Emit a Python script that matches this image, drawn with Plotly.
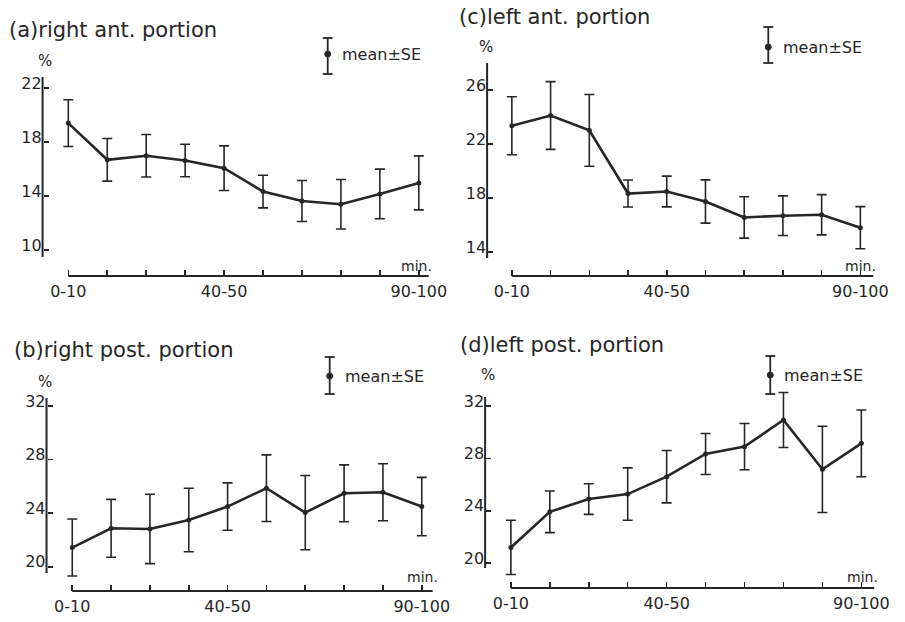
import plotly.graph_objects as go

W, H = 905, 622
INK = "#262626"
FONT = "DejaVu Sans"

categories = ["0-10", "10-20", "20-30", "30-40", "40-50",
              "50-60", "60-70", "70-80", "80-90", "90-100"]
tick_text = ["0-10", "", "", "", "40-50", "", "", "", "", "90-100"]

# (a) right ant. portion
a_mean = [19.4, 16.68, 16.98, 16.63, 16.06, 14.33, 13.63, 13.39, 14.15, 14.97]
a_se = [1.73, 1.58, 1.57, 1.20, 1.65, 1.21, 1.52, 1.83, 1.84, 2.00]
# (b) right post. portion
b_mean = [21.43, 22.87, 22.82, 23.49, 24.49, 25.86, 24.04, 25.48, 25.56, 24.49]
b_se = [2.13, 2.16, 2.59, 2.37, 1.77, 2.49, 2.77, 2.12, 2.13, 2.18]
# (c) left ant. portion
c_mean = [23.35, 24.11, 23.01, 18.33, 18.48, 17.74, 16.56, 16.69, 16.76, 15.80]
c_se = [2.15, 2.51, 2.66, 1.00, 1.14, 1.60, 1.53, 1.47, 1.49, 1.56]
# (d) left post. portion
d_mean = [21.21, 23.93, 24.90, 25.28, 26.61, 28.34, 28.90, 30.93, 27.17, 29.15]
d_se = [2.07, 1.59, 1.17, 2.00, 2.00, 1.56, 1.76, 2.10, 3.29, 2.55]

a_ticks = [10, 14, 18, 22]
b_ticks = [20, 24, 28, 32]
c_ticks = [14, 18, 22, 26]
d_ticks = [20, 24, 28, 32]

titles = ["(a)right ant. portion", "(b)right post. portion",
          "(c)left ant. portion", "(d)left post. portion"]

# layout geometry in pixels for each panel
panels = [
    dict(mean=a_mean, se=a_se, ticks=a_ticks, title=titles[0],
         x0=69, x9=423, xline=(69, 433), xaxis_y=276,
         yv=(22, 88, 10, 250), yaxis_x=43, yline=(77, 257),
         dom_x=(10, 445), dom_y=(60, 272),
         title_xy=(7, 30), pct=(45, 61), minl=(421, 266),
         leg=(331, 38, 74, 54, 343)),
    dict(mean=b_mean, se=b_se, ticks=b_ticks, title=titles[1],
         x0=73, x9=426, xline=(73, 437), xaxis_y=591,
         yv=(32, 406, 20, 566.7), yaxis_x=47, yline=(398, 573),
         dom_x=(10, 445), dom_y=(352, 588),
         title_xy=(12, 350), pct=(45, 382), minl=(427, 577),
         leg=(333, 357, 394, 376, 346)),
    dict(mean=c_mean, se=c_se, ticks=c_ticks, title=titles[2],
         x0=517, x9=869, xline=(517, 882), xaxis_y=276,
         yv=(26, 90, 14, 252), yaxis_x=492, yline=(63, 258),
         dom_x=(455, 900), dom_y=(60, 272),
         title_xy=(462, 17), pct=(491, 47), minl=(869, 266),
         leg=(776, 27, 63, 47, 789)),
    dict(mean=d_mean, se=d_se, ticks=d_ticks, title=titles[3],
         x0=516, x9=870, xline=(516, 883), xaxis_y=588,
         yv=(32, 406, 20, 563.3), yaxis_x=490, yline=(397, 568),
         dom_x=(455, 900), dom_y=(352, 585),
         title_xy=(463, 345), pct=(493, 375), minl=(871, 577),
         leg=(778, 356, 394, 375, 790)),
]


def px2fx(px):
    return px / W


def py2fy(py):
    return 1 - py / H


fig = go.Figure()
shapes = []
annotations = []

for k, p in enumerate(panels, start=1):
    xn = "x" if k == 1 else f"x{k}"
    yn = "y" if k == 1 else f"y{k}"
    xkey = "xaxis" if k == 1 else f"xaxis{k}"
    ykey = "yaxis" if k == 1 else f"yaxis{k}"

    fig.add_trace(go.Scatter(
        x=categories, y=p["mean"], xaxis=xn, yaxis=yn,
        mode="lines+markers",
        line=dict(color=INK, width=2.6),
        marker=dict(color=INK, size=5),
        error_y=dict(type="data", array=p["se"], visible=True,
                     color=INK, thickness=1.6, width=5),
        showlegend=False, hoverinfo="skip", cliponaxis=False,
    ))

    # x scale: index 0 at x0, index 9 at x9
    s = (p["x9"] - p["x0"]) / 9.0
    L, R = p["dom_x"]
    xr = [(L - p["x0"]) / s, (R - p["x0"]) / s]
    # y scale
    v1, py1, v2, py2 = p["yv"]
    sy = (py2 - py1) / (v1 - v2)  # px per unit
    T, B = p["dom_y"]
    yr = [v1 - (B - py1) / sy, v1 + (py1 - T) / sy]

    fig.update_layout({
        xkey: dict(domain=[px2fx(L), px2fx(R)], range=xr, type="category",
                   anchor="free", position=py2fy(p["xaxis_y"]),
                   showline=False, showgrid=False, zeroline=False,
                   ticks="inside", ticklen=6, tickwidth=1.6, tickcolor=INK,
                   tickmode="array", tickvals=categories, ticktext=tick_text,
                   tickfont=dict(family=FONT, size=16, color=INK),
                   ticklabelstandoff=4, fixedrange=True),
        ykey: dict(domain=[py2fy(B), py2fy(T)], range=yr,
                   anchor="free", position=px2fx(p["yaxis_x"]),
                   showline=False, showgrid=False, zeroline=False,
                   ticks="inside", ticklen=5, tickwidth=1.6, tickcolor=INK,
                   tickmode="array", tickvals=p["ticks"],
                   tickfont=dict(family=FONT, size=16, color=INK),
                   ticklabelshift=-5, ticklabelstandoff=1, fixedrange=True),
    })

    # axis lines
    shapes.append(dict(type="line", xref="paper", yref="paper",
                       x0=px2fx(p["xline"][0]), x1=px2fx(p["xline"][1]),
                       y0=py2fy(p["xaxis_y"]), y1=py2fy(p["xaxis_y"]),
                       line=dict(color=INK, width=2)))
    shapes.append(dict(type="line", xref="paper", yref="paper",
                       x0=px2fx(p["yaxis_x"]), x1=px2fx(p["yaxis_x"]),
                       y0=py2fy(p["yline"][0]), y1=py2fy(p["yline"][1]),
                       line=dict(color=INK, width=2)))

    # legend glyph: mean ± SE
    lx, lt, lb, ld, tx = p["leg"]
    shapes.append(dict(type="line", xref="paper", yref="paper",
                       x0=px2fx(lx), x1=px2fx(lx), y0=py2fy(lt), y1=py2fy(lb),
                       line=dict(color=INK, width=1.8)))
    for cy in (lt, lb):
        shapes.append(dict(type="line", xref="paper", yref="paper",
                           x0=px2fx(lx - 5), x1=px2fx(lx + 5),
                           y0=py2fy(cy), y1=py2fy(cy),
                           line=dict(color=INK, width=1.8)))
    shapes.append(dict(type="circle", xref="paper", yref="paper",
                       x0=px2fx(lx - 3), x1=px2fx(lx + 3),
                       y0=py2fy(ld - 3), y1=py2fy(ld + 3),
                       fillcolor=INK, line=dict(color=INK, width=1)))
    annotations.append(dict(text="mean±SE", xref="paper", yref="paper",
                            x=px2fx(tx), y=py2fy(ld), xanchor="left",
                            yanchor="middle", showarrow=False,
                            font=dict(family=FONT, size=16, color=INK)))

    # titles and unit labels
    annotations.append(dict(text=p["title"], xref="paper", yref="paper",
                            x=px2fx(p["title_xy"][0]), y=py2fy(p["title_xy"][1]),
                            xanchor="left", yanchor="middle", showarrow=False,
                            font=dict(family=FONT, size=21, color=INK)))
    annotations.append(dict(text="%", xref="paper", yref="paper",
                            x=px2fx(p["pct"][0]), y=py2fy(p["pct"][1]),
                            xanchor="center", yanchor="middle", showarrow=False,
                            font=dict(family=FONT, size=15, color=INK)))
    annotations.append(dict(text="min.", xref="paper", yref="paper",
                            x=px2fx(p["minl"][0]), y=py2fy(p["minl"][1]),
                            xanchor="center", yanchor="middle", showarrow=False,
                            font=dict(family=FONT, size=14, color=INK)))

fig.update_layout(
    width=W, height=H,
    margin=dict(l=0, r=0, t=0, b=0),
    paper_bgcolor="white", plot_bgcolor="rgba(0,0,0,0)",
    shapes=shapes, annotations=annotations,
    showlegend=False,
)

fig.write_html("out.html",
               config={"displayModeBar": False, "staticPlot": True},
               post_script="document.body.style.margin='0px';"
                           "document.body.style.overflow='hidden';")
